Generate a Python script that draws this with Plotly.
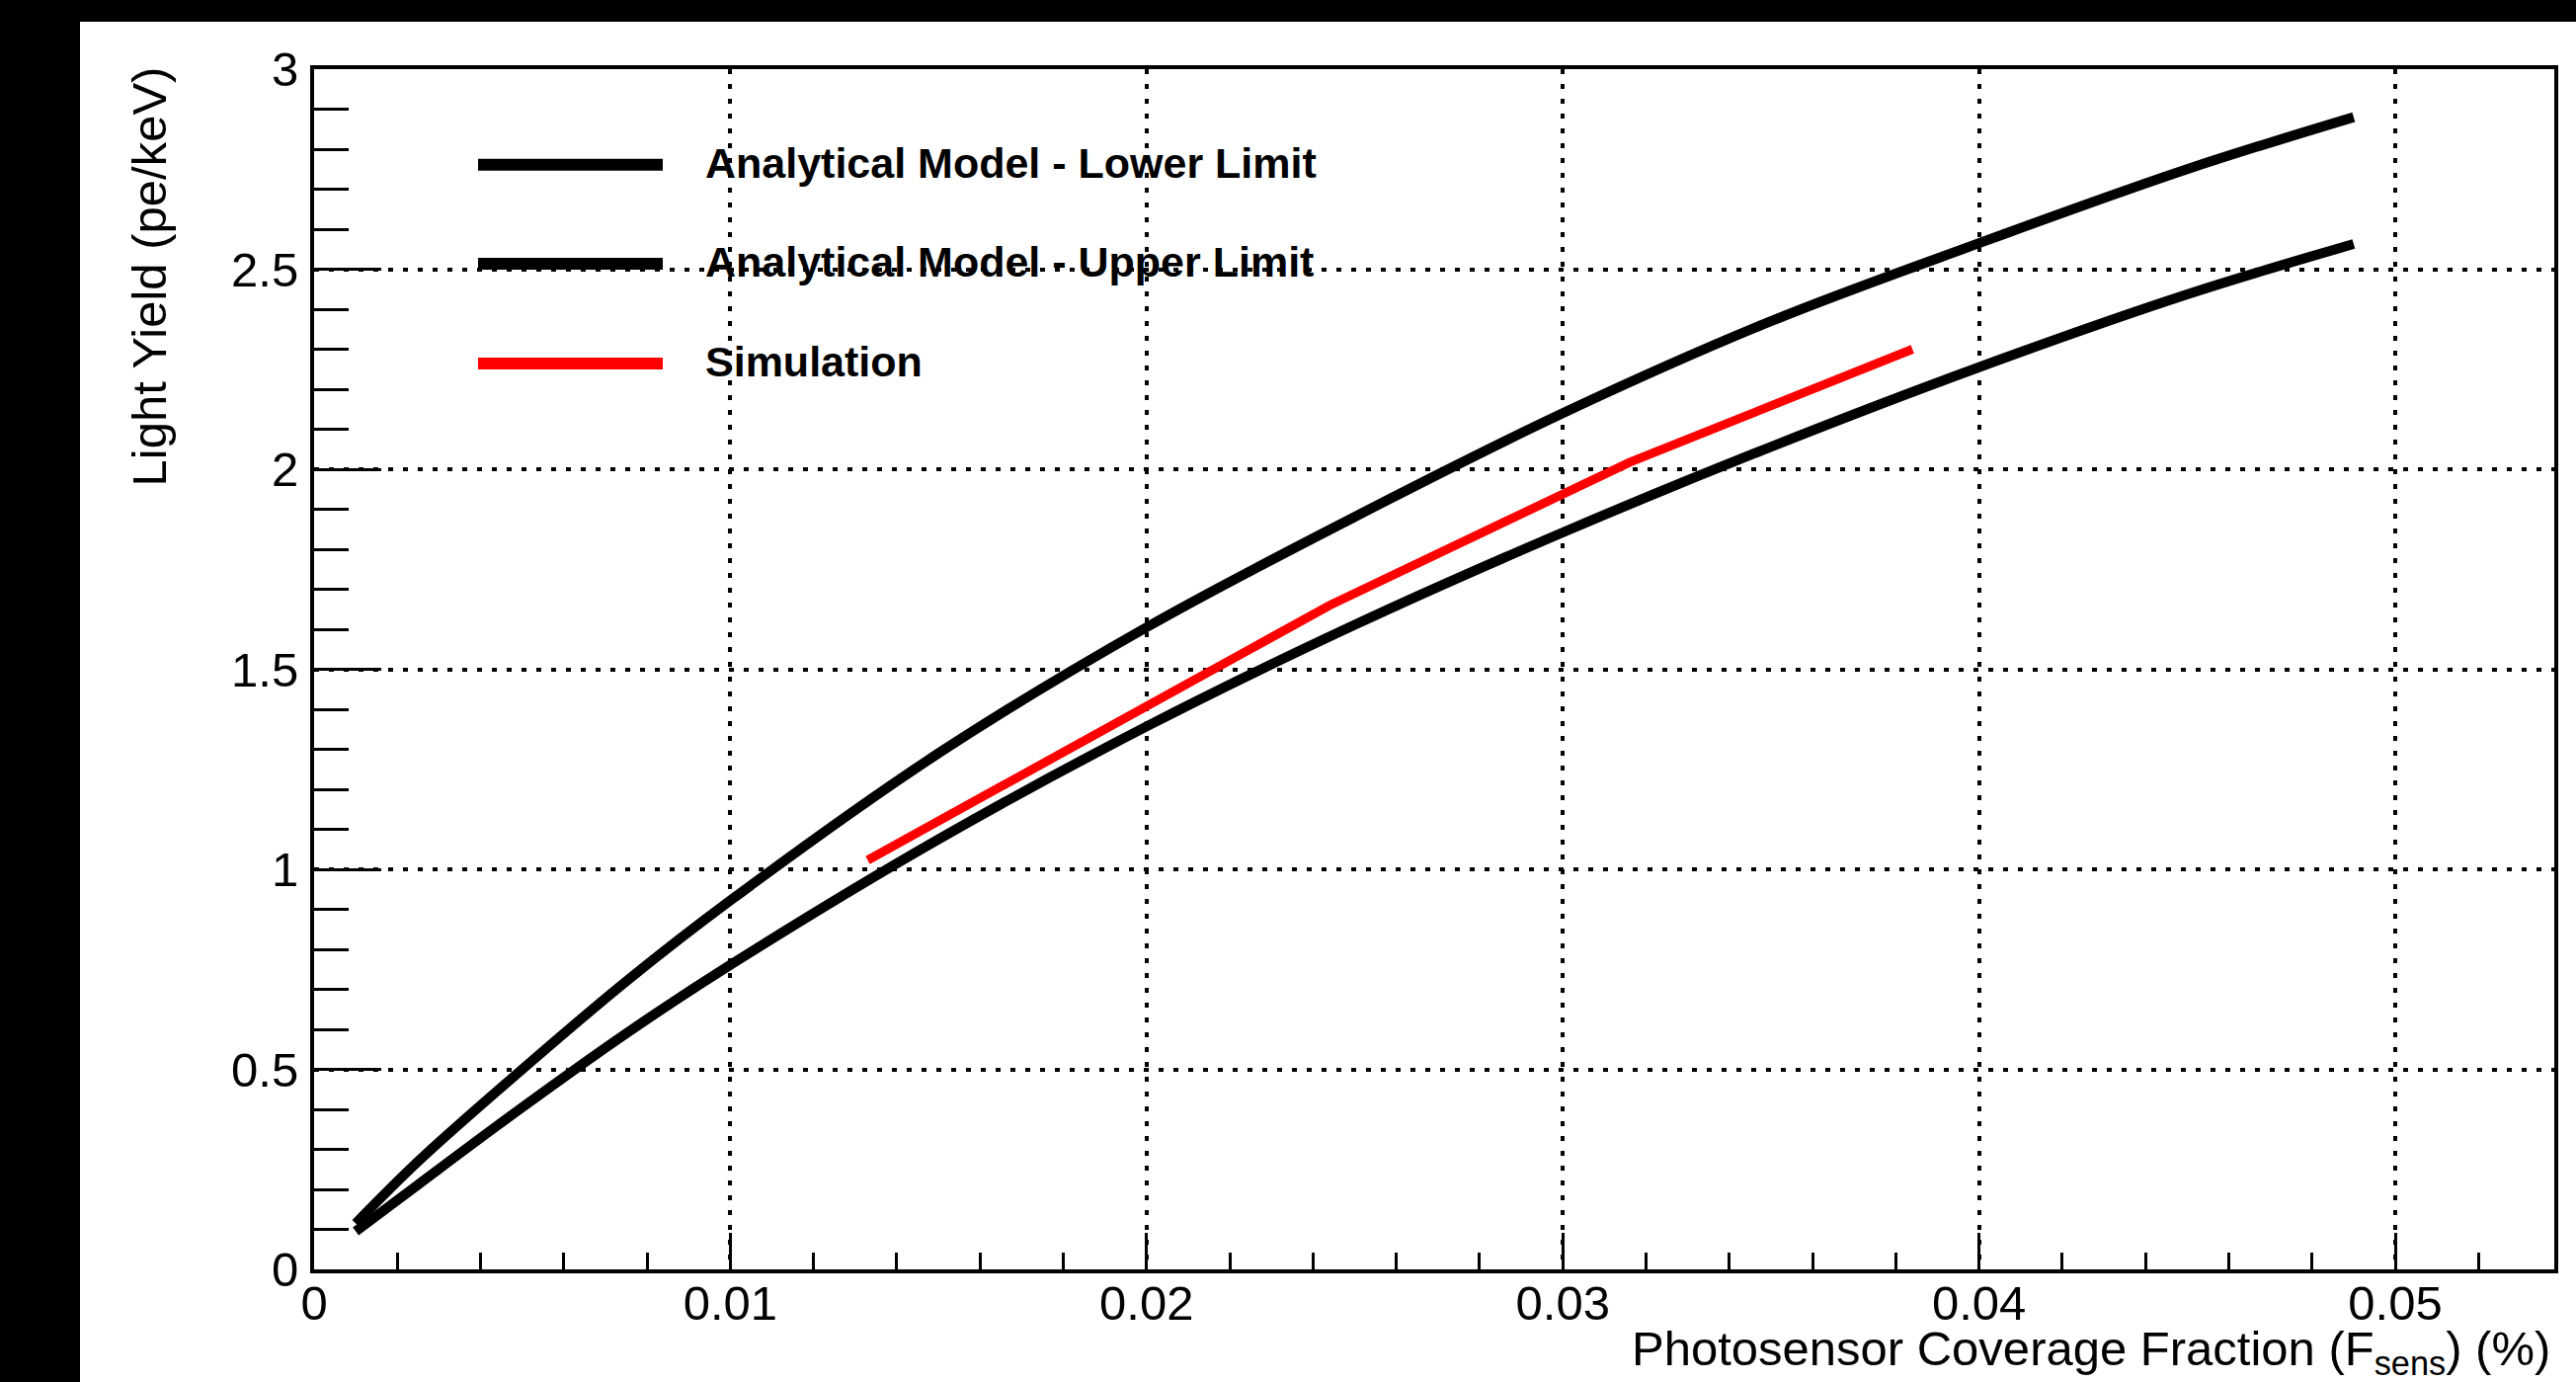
import plotly.graph_objects as go

# ---------------- data ----------------
upper_x = [0.001, 0.0025, 0.005, 0.0075, 0.010, 0.015, 0.020, 0.025, 0.030, 0.035, 0.040, 0.045, 0.049]
upper_y = [0.115, 0.27, 0.50, 0.72, 0.922, 1.29, 1.605, 1.881, 2.14, 2.37, 2.565, 2.75, 2.88]

lower_x = [0.001, 0.0025, 0.005, 0.0075, 0.010, 0.015, 0.020, 0.025, 0.030, 0.035, 0.040, 0.045, 0.049]
lower_y = [0.095, 0.212, 0.405, 0.59, 0.761, 1.075, 1.357, 1.611, 1.842, 2.056, 2.255, 2.437, 2.563]

sim_x = [0.0133, 0.0244, 0.0316, 0.0384]
sim_y = [1.023, 1.66, 2.017, 2.30]

x_tickvals = [0, 0.01, 0.02, 0.03, 0.04, 0.05]
x_ticktext = ["0", "0.01", "0.02", "0.03", "0.04", "0.05"]
y_tickvals = [0, 0.5, 1, 1.5, 2, 2.5, 3]
y_ticktext = ["0", "0.5", "1", "1.5", "2", "2.5", "3"]

legend_labels = ["Analytical Model - Lower Limit", "Analytical Model - Upper Limit", "Simulation"]
legend_colors = ["black", "black", "red"]

# ---------------- geometry ----------------
W, H = 2608, 1399
L, R, T, B = 318, 22, 70, 114
PW, PH = W - L - R, H - T - B

def px(xp):
    return (xp - L) / PW

def py(yp):
    return (H - B - yp) / PH

FONT = "Liberation Sans, Arial, Helvetica, sans-serif"

fig = go.Figure()
fig.add_trace(go.Scatter(x=lower_x, y=lower_y, mode="lines", name=legend_labels[0],
                         line=dict(color="black", width=10, shape="spline", smoothing=1.0),
                         showlegend=False))
fig.add_trace(go.Scatter(x=upper_x, y=upper_y, mode="lines", name=legend_labels[1],
                         line=dict(color="black", width=10, shape="spline", smoothing=1.0),
                         showlegend=False))
fig.add_trace(go.Scatter(x=sim_x, y=sim_y, mode="lines", name=legend_labels[2],
                         line=dict(color="red", width=9), showlegend=False))

axis_common = dict(
    showline=True, linecolor="black", linewidth=4, mirror=True,
    ticks="inside", tickcolor="black", tickwidth=3,
    showgrid=True, gridcolor="black", gridwidth=4, griddash="5px,10px",
    zeroline=False,
    tickfont=dict(family=FONT, size=49, color="black"),
)

fig.update_xaxes(
    range=[0, 0.05382], tickmode="array", tickvals=x_tickvals, ticktext=x_ticktext,
    ticklen=37, ticklabelstandoff=-12,
    minor=dict(dtick=0.002, tick0=0, ticklen=17, tickwidth=3, tickcolor="black",
               ticks="inside", showgrid=False),
    **axis_common,
)
fig.update_yaxes(
    range=[0, 3], tickmode="array", tickvals=y_tickvals, ticktext=y_ticktext,
    ticklen=68, ticklabelstandoff=2,
    minor=dict(dtick=0.1, tick0=0, ticklen=35, tickwidth=3, tickcolor="black",
               ticks="inside", showgrid=False),
    **axis_common,
)

shapes = [
    # black frame bands from the original screenshot
    dict(type="rect", xref="paper", yref="paper", x0=px(0), x1=px(81), y0=py(H), y1=py(0),
         fillcolor="black", line=dict(width=0), layer="above"),
    dict(type="rect", xref="paper", yref="paper", x0=px(0), x1=px(W), y0=py(22), y1=py(0),
         fillcolor="black", line=dict(width=0), layer="above"),
]
annotations = []
legend_rows = [166.7, 267.0, 368.0]
for lab, col, yrow in zip(legend_labels, legend_colors, legend_rows):
    shapes.append(dict(type="line", xref="paper", yref="paper", x0=px(484), x1=px(671),
                       y0=py(yrow), y1=py(yrow), line=dict(color=col, width=12)))
    annotations.append(dict(text=lab, xref="paper", yref="paper", x=px(712), y=py(yrow - 2),
                            xanchor="left", yanchor="middle", showarrow=False,
                            font=dict(family=FONT, size=43, color="black", weight="bold")))

annotations.append(dict(text="Photosensor Coverage Fraction (F<sub>sens</sub>) (%)",
                        xref="paper", yref="paper", x=px(2584), y=py(1336),
                        xanchor="right", yanchor="top", showarrow=False,
                        font=dict(family=FONT, size=49, color="black")))
annotations.append(dict(text="Light Yield (pe/keV)", textangle=-90,
                        xref="paper", yref="paper", x=px(150), y=py(66),
                        xanchor="center", yanchor="top", showarrow=False,
                        font=dict(family=FONT, size=49, color="black")))

fig.update_layout(
    width=W, height=H,
    margin=dict(l=L, r=R, t=T, b=B, pad=0),
    paper_bgcolor="white", plot_bgcolor="white",
    shapes=shapes, annotations=annotations,
    showlegend=False,
)

fig.write_html("out.html", config={"displayModeBar": False},
               post_script="document.body.style.margin='0px';")
